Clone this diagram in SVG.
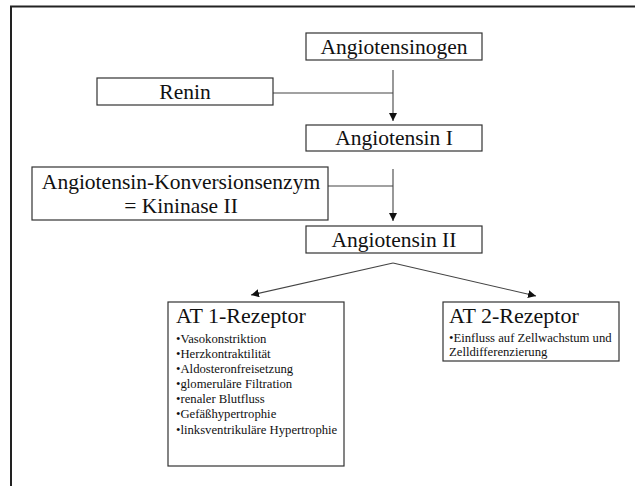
<svg xmlns="http://www.w3.org/2000/svg" width="635" height="486" viewBox="0 0 635 486">
<style>
.box{fill:#fff;stroke:#333;stroke-width:1.2}
text{font-family:'Liberation Serif','Times New Roman','DejaVu Serif',serif;fill:#111}
.big{font-size:21.5px;text-anchor:middle}
.title{font-size:22px}
.small{font-size:12.7px}
.ln{fill:none;stroke:#444;stroke-width:1.1}
</style>
<defs>
<marker id="ah" viewBox="0 0 10 10" refX="10" refY="5" markerWidth="8" markerHeight="8" markerUnits="userSpaceOnUse" orient="auto">
<path d="M0,0 L10,5 L0,10 Z" fill="#111"/>
</marker>
</defs>
<rect width="635" height="486" fill="#fff"/>
<path d="M11,486 L11,6.5 L635,6.5" fill="none" stroke="#222" stroke-width="2"/>
<g id="connectors">
<path class="ln" d="M393,70 L393,121" marker-end="url(#ah)"/>
<path class="ln" d="M273,93 L393,93"/>
<path class="ln" d="M393,169 L393,221" marker-end="url(#ah)"/>
<path class="ln" d="M328,186 L393,186"/>
<path class="ln" d="M393,263 L251,295" marker-end="url(#ah)"/>
<path class="ln" d="M393,263 L536,296" marker-end="url(#ah)"/>
</g>
<g id="angiotensinogen" font-family="Liberation Serif, serif">
<rect class="box" x="306" y="33" width="176" height="27"/>
<text class="big" x="394" y="54">Angiotensinogen</text>
</g>
<g id="renin" font-family="Liberation Serif, serif">
<rect class="box" x="97" y="78" width="176" height="27"/>
<text class="big" x="185" y="99">Renin</text>
</g>
<g id="angiotensin1" font-family="Liberation Serif, serif">
<rect class="box" x="306" y="125" width="176" height="26"/>
<text class="big" x="394" y="145">Angiotensin I</text>
</g>
<g id="ace" font-family="Liberation Serif, serif">
<rect class="box" x="32" y="167" width="296" height="53"/>
<text class="big" x="181" y="189">Angiotensin-Konversionsenzym</text>
<text class="big" x="181" y="213">= Kininase II</text>
</g>
<g id="angiotensin2" font-family="Liberation Serif, serif">
<rect class="box" x="306" y="226" width="176" height="27"/>
<text class="big" x="394" y="247">Angiotensin II</text>
</g>
<g id="at1" font-family="Liberation Serif, serif">
<rect class="box" x="168" y="302" width="176" height="164"/>
<text class="title" x="176" y="323">AT 1-Rezeptor</text>
<text class="small" x="176" y="343">•Vasokonstriktion</text>
<text class="small" x="176" y="358">•Herzkontraktilität</text>
<text class="small" x="176" y="373">•Aldosteronfreisetzung</text>
<text class="small" x="176" y="388">•glomeruläre Filtration</text>
<text class="small" x="176" y="403">•renaler Blutfluss</text>
<text class="small" x="176" y="418">•Gefäßhypertrophie</text>
<text class="small" x="176" y="434">•linksventrikuläre Hypertrophie</text>
</g>
<g id="at2" font-family="Liberation Serif, serif">
<rect class="box" x="443" y="302" width="176" height="59"/>
<text class="title" x="449" y="323">AT 2-Rezeptor</text>
<text class="small" x="449" y="342">•Einfluss auf Zellwachstum und</text>
<text class="small" x="449" y="356">Zelldifferenzierung</text>
</g>
</svg>
